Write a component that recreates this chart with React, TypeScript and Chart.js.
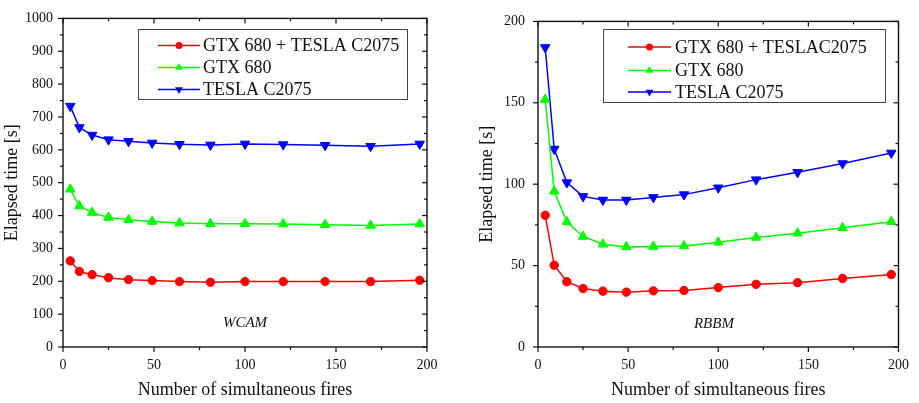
import React, { useEffect, useRef } from "react";
import { Chart, registerables } from "chart.js";

Chart.register(...registerables);

// ---------- data ----------
const FIRES = [4, 9, 16, 25, 36, 49, 64, 81, 100, 121, 144, 169, 196];

const WCAM_BOTH = [262, 230, 220, 211, 205, 202, 199, 197, 199, 199, 199, 199, 203];
const WCAM_GTX = [480, 429, 409, 394, 387, 382, 377, 375, 375, 374, 372, 370, 374];
const WCAM_TESLA = [733, 668, 645, 631, 626, 621, 617, 615, 618, 616, 614, 611, 618];

const RBBM_BOTH = [80.9, 50.2, 40.1, 35.9, 34.3, 33.7, 34.5, 34.7, 36.5, 38.5, 39.5, 42.1, 44.5];
const RBBM_GTX = [152, 95.6, 76.8, 67.9, 63.1, 61.5, 61.7, 62.1, 64.3, 67.3, 69.9, 73.2, 77.0];
const RBBM_TESLA = [184, 121.6, 101, 92.5, 90.3, 90.3, 91.9, 93.6, 97.8, 102.8, 107.3, 112.7, 119.2];

const WCAM_LABELS = ["GTX 680 + TESLA C2075", "GTX 680", "TESLA C2075"];
const RBBM_LABELS = ["GTX 680 + TESLAC2075", "GTX 680", "TESLA C2075"];

const X_TITLE = "Number of simultaneous fires";
const Y_TITLE = "Elapsed time [s]";

const WCAM_NOTE = { text: "WCAM", x: 100, y: 73 };
const RBBM_NOTE = { text: "RBBM", x: 97.6, y: 14.2 };

// ---------- styles ----------
const FONT = "'Liberation Serif', 'Times New Roman', serif";
const COLORS = ["#ff0000", "#00ff00", "#0000ff"];
const POINT_STYLES = ["circle", "triangle", "triangle"];
const POINT_ROT = [0, 0, 180];
const POINT_R = [4.2, 5.5, 5.5];
const LEGEND_R = [3.5, 4.6, 4.6];

function strokeLine(ctx: CanvasRenderingContext2D, x1: number, y1: number, x2: number, y2: number) {
  ctx.beginPath();
  ctx.moveTo(x1, y1);
  ctx.lineTo(x2, y2);
  ctx.stroke();
}

const framePlugin = {
  id: "frame",
  afterDatasetsDraw(chart: any, _args: any, opts: any) {
    const { ctx, chartArea: a, scales } = chart;
    const xs = scales.x;
    const ys = scales.y;
    ctx.save();
    ctx.strokeStyle = "#111";
    ctx.lineWidth = 1.4;
    ctx.strokeRect(a.left, a.top, a.right - a.left, a.bottom - a.top);
    ctx.lineWidth = 1.2;
    const isMajor = (v: number, step: number) => Math.abs(v / step - Math.round(v / step)) < 1e-6;
    for (let v = xs.min; v <= xs.max + 1e-9; v += opts.xMinor) {
      const len = isMajor(v, opts.xMajor) ? 5 : 3;
      const px = xs.getPixelForValue(v);
      strokeLine(ctx, px, a.bottom, px, a.bottom + len);
      strokeLine(ctx, px, a.top, px, a.top + len);
    }
    for (let v = ys.min; v <= ys.max + 1e-9; v += opts.yMinor) {
      const len = isMajor(v, opts.yMajor) ? 5 : 3;
      const py = ys.getPixelForValue(v);
      strokeLine(ctx, a.left, py, a.left - len, py);
      strokeLine(ctx, a.right, py, a.right - len, py);
    }
    ctx.restore();
  },
};

const notePlugin = {
  id: "note",
  afterDatasetsDraw(chart: any, _args: any, opts: any) {
    const { ctx, scales } = chart;
    ctx.save();
    ctx.font = `italic 15px ${FONT}`;
    ctx.fillStyle = "#111";
    ctx.textAlign = "center";
    ctx.textBaseline = "middle";
    ctx.fillText(opts.text, scales.x.getPixelForValue(opts.x), scales.y.getPixelForValue(opts.y));
    ctx.restore();
  },
};

function drawMarker(ctx: CanvasRenderingContext2D, style: string, rot: number, r: number, x: number, y: number) {
  ctx.beginPath();
  if (style === "circle") {
    ctx.arc(x, y, r, 0, Math.PI * 2);
  } else {
    let rad = (rot * Math.PI) / 180;
    for (let i = 0; i < 3; i++) {
      const px = x + Math.sin(rad) * r;
      const py = y - Math.cos(rad) * r;
      if (i === 0) ctx.moveTo(px, py);
      else ctx.lineTo(px, py);
      rad += (2 * Math.PI) / 3;
    }
    ctx.closePath();
  }
  ctx.fill();
}

const legendPlugin = {
  id: "boxLegend",
  afterDraw(chart: any, _args: any, opts: any) {
    const { ctx } = chart;
    ctx.save();
    ctx.fillStyle = "#fff";
    ctx.fillRect(opts.x, opts.y, opts.w, opts.h);
    ctx.strokeStyle = "#444";
    ctx.lineWidth = 1;
    ctx.strokeRect(opts.x + 0.5, opts.y + 0.5, opts.w, opts.h);
    chart.data.datasets.forEach((ds: any, i: number) => {
      const ry = opts.rows[i];
      ctx.strokeStyle = ds.borderColor;
      ctx.fillStyle = ds.borderColor;
      ctx.lineWidth = 1.5;
      strokeLine(ctx, opts.lineX0, ry, opts.lineX1, ry);
      drawMarker(ctx, POINT_STYLES[i], POINT_ROT[i], LEGEND_R[i], (opts.lineX0 + opts.lineX1) / 2, ry);
      ctx.fillStyle = "#111";
      ctx.font = `18px ${FONT}`;
      ctx.textAlign = "left";
      ctx.textBaseline = "middle";
      ctx.fillText(ds.label, opts.textX, ry + 1);
    });
    ctx.restore();
  },
};

interface PanelProps {
  left: number;
  width: number;
  labels: string[];
  series: number[][];
  yMax: number;
  yMajor: number;
  yMinor: number;
  note: { text: string; x: number; y: number };
  yAxisWidth: number;
  padRight: number;
  padTop: number;
  yTickPad: number;
  yTitlePad: number;
  legend: any;
}

function Panel(p: PanelProps) {
  const ref = useRef<HTMLCanvasElement>(null);
  useEffect(() => {
    if (!ref.current) return;
    const chart = new Chart(ref.current, {
      type: "line",
      data: {
        datasets: p.series.map((vals, i) => ({
          label: p.labels[i],
          data: FIRES.map((f, j) => ({ x: f, y: vals[j] })),
          borderColor: COLORS[i],
          backgroundColor: COLORS[i],
          pointBackgroundColor: COLORS[i],
          pointBorderColor: COLORS[i],
          pointBorderWidth: 1,
          pointStyle: POINT_STYLES[i] as any,
          pointRotation: POINT_ROT[i],
          pointRadius: POINT_R[i],
          borderWidth: 1.5,
          tension: 0,
          fill: false,
        })),
      },
      options: {
        responsive: false,
        animation: false,
        maintainAspectRatio: false,
        layout: { padding: { left: 0, right: p.padRight, top: p.padTop, bottom: 0 } },
        plugins: {
          legend: { display: false },
          tooltip: { enabled: false },
          frame: { xMajor: 50, xMinor: 25, yMajor: p.yMajor, yMinor: p.yMinor },
          note: p.note,
          boxLegend: p.legend,
        } as any,
        scales: {
          x: {
            type: "linear",
            min: 0,
            max: 200,
            grid: { display: false, drawTicks: false },
            border: { display: false },
            ticks: {
              stepSize: 50,
              color: "#111",
              font: { family: FONT, size: 14 },
              padding: 10,
              maxRotation: 0,
              callback: (v: any) => String(v),
            },
            title: {
              display: true,
              text: X_TITLE,
              color: "#111",
              font: { family: FONT, size: 18 },
              padding: { top: 0, bottom: 2 },
            },
            afterFit: (s: any) => {
              s.height = 56;
            },
          },
          y: {
            type: "linear",
            min: 0,
            max: p.yMax,
            grid: { display: false, drawTicks: false },
            border: { display: false },
            ticks: {
              stepSize: p.yMajor,
              color: "#111",
              font: { family: FONT, size: 14 },
              padding: p.yTickPad,
              callback: (v: any) => String(v),
            },
            title: {
              display: true,
              text: Y_TITLE,
              color: "#111",
              font: { family: FONT, size: 18 },
              padding: { top: p.yTitlePad, bottom: 0 },
            },
            afterFit: (s: any) => {
              s.width = p.yAxisWidth;
            },
          },
        },
      },
      plugins: [framePlugin, notePlugin, legendPlugin],
    });
    return () => chart.destroy();
  }, []);
  return (
    <canvas
      ref={ref}
      width={p.width}
      height={403}
      style={{ position: "absolute", left: p.left, top: 0, width: p.width, height: 403 }}
    />
  );
}

export default function App() {
  return (
    <div style={{ position: "absolute", left: 0, top: 0, width: 919, height: 403, background: "#fff" }}>
      <Panel
        left={0}
        width={459}
        labels={WCAM_LABELS}
        series={[WCAM_BOTH, WCAM_GTX, WCAM_TESLA]}
        yMax={1000}
        yMajor={100}
        yMinor={50}
        note={WCAM_NOTE}
        yAxisWidth={63}
        padRight={32}
        padTop={14}
        yTickPad={10}
        yTitlePad={1}
        legend={{ x: 138, y: 29, w: 269, h: 70, rows: [45.5, 67.5, 89.5], lineX0: 158, lineX1: 200, textX: 203 }}
      />
      <Panel
        left={459}
        width={460}
        labels={RBBM_LABELS}
        series={[RBBM_BOTH, RBBM_GTX, RBBM_TESLA]}
        yMax={200}
        yMajor={50}
        yMinor={25}
        note={RBBM_NOTE}
        yAxisWidth={79}
        padRight={18}
        padTop={14.5}
        yTickPad={13}
        yTitlePad={17}
        legend={{ x: 144, y: 29, w: 282, h: 73, rows: [47, 70.5, 92], lineX0: 169, lineX1: 212, textX: 216 }}
      />
    </div>
  );
}
